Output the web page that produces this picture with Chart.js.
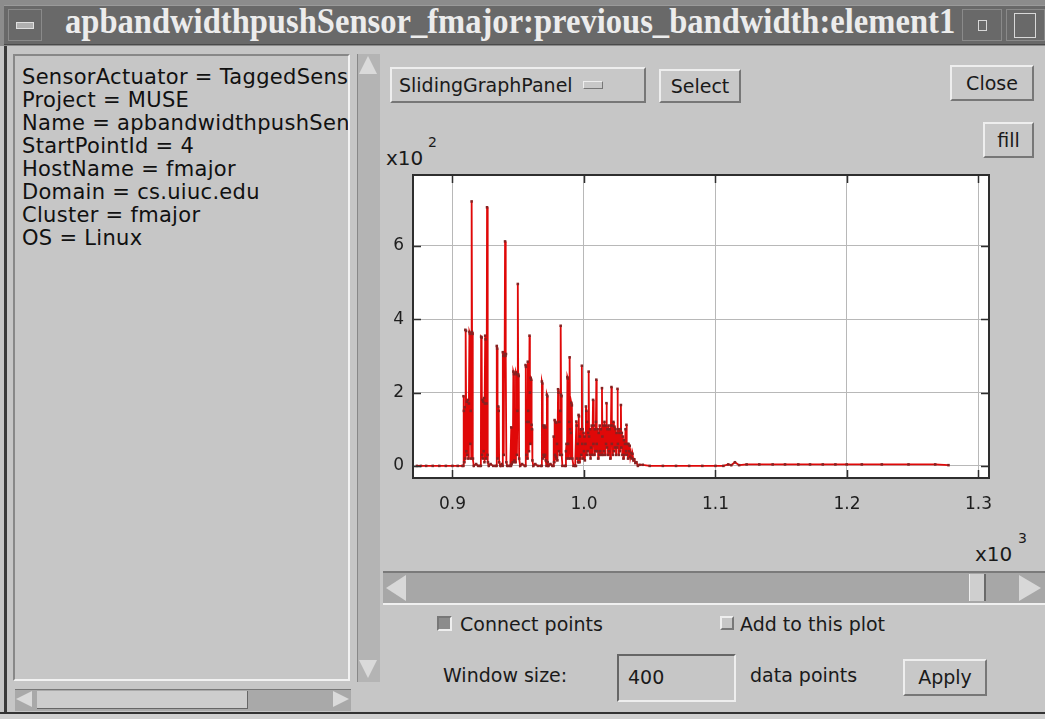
<!DOCTYPE html>
<html>
<head>
<meta charset="utf-8">
<script src="https://cdn.jsdelivr.net/npm/chart.js@4/dist/chart.umd.min.js"></script>
<style>
  body { margin: 0; width: 1045px; height: 719px; background: #c6c6c6; position: relative; overflow: hidden;
         font-family: 'DejaVu Sans', sans-serif; color: #1a1a1a; }
  .abs { position: absolute; }
  .btn { position: absolute; box-sizing: border-box; border: 2px solid; border-color: #eeeeee #777777 #777777 #eeeeee;
         background: #c8c8c8; font-size: 19px; line-height: 1; display: flex; align-items: center; justify-content: center; }
  .txt { position: absolute; font-size: 19px; white-space: nowrap; }
  .sunk { position: absolute; box-sizing: border-box; border: 2px solid; border-color: #777777 #eeeeee #eeeeee #777777; }
</style>
</head>
<body>
<!-- title bar -->
<div class="abs" style="left:0;top:0;width:1045px;height:46px;background:#8c8c8c;"></div>
<div class="abs" style="left:4px;top:5px;width:1041px;height:38px;background:#696969;border-top:1px solid #9a9a9a;border-bottom:1px solid #4a4a4a;"></div>
<div class="abs" style="left:8px;top:9px;width:34px;height:32px;border:1px solid #8a8a8a;box-sizing:border-box;"></div>
<div class="abs" style="left:16px;top:22px;width:16px;height:5px;background:#b0b0b0;border:1px solid #e0e0e0;"></div>
<div class="abs" style="left:962px;top:9px;width:40px;height:32px;border:1px solid #8a8a8a;box-sizing:border-box;"></div>
<div class="abs" style="left:978px;top:20px;width:7px;height:9px;border:1px solid #d8d8d8;"></div>
<div class="abs" style="left:1006px;top:9px;width:39px;height:32px;border:1px solid #8a8a8a;box-sizing:border-box;"></div>
<div class="abs" style="left:1014px;top:13px;width:20px;height:23px;border:1px solid #d8d8d8;"></div>
<div id="title" class="abs" style="left:65px;top:2px;font-family:'Liberation Serif',serif;font-weight:bold;font-size:35px;color:#ececec;white-space:nowrap;transform-origin:0 0;">apbandwidthpushSensor_fmajor:previous_bandwidth:element1</div>

<!-- left info panel -->
<div class="abs" style="left:4px;top:46px;width:3px;height:668px;background:#3a3a3a;"></div>
<div class="abs" style="left:13px;top:54px;width:337px;height:627px;box-sizing:border-box;border:2px solid;border-color:#888 #f2f2f2 #f2f2f2 #888;overflow:hidden;">
  <div style="position:absolute;left:7px;top:10px;font-size:21px;letter-spacing:0.3px;line-height:23px;white-space:pre;color:#111;">SensorActuator = TaggedSensor
Project = MUSE
Name = apbandwidthpushSensor
StartPointId = 4
HostName = fmajor
Domain = cs.uiuc.edu
Cluster = fmajor
OS = Linux</div>
</div>
<!-- left vertical scrollbar -->
<div class="abs" style="left:357px;top:54px;width:22px;height:628px;background:#b4b4b4;border-left:1px solid #888;"></div>
<div class="abs" style="left:359px;top:56px;width:0;height:0;border-left:9px solid transparent;border-right:9px solid transparent;border-bottom:18px solid #dadada;"></div>
<div class="abs" style="left:359px;top:660px;width:0;height:0;border-left:9px solid transparent;border-right:9px solid transparent;border-top:18px solid #dadada;"></div>
<!-- left horizontal scrollbar -->
<div class="abs" style="left:15px;top:689px;width:336px;height:21px;background:#a9a9a9;border-top:1px solid #777;"></div>
<div class="abs" style="left:37px;top:691px;width:210px;height:17px;background:#cdcdcd;border-right:1px solid #666;border-bottom:1px solid #666;"></div>
<div class="abs" style="left:16px;top:691px;width:0;height:0;border-top:8px solid transparent;border-bottom:8px solid transparent;border-right:16px solid #dadada;"></div>
<div class="abs" style="left:333px;top:691px;width:0;height:0;border-top:8px solid transparent;border-bottom:8px solid transparent;border-left:16px solid #dadada;"></div>
<div class="abs" style="left:0;top:712px;width:1045px;height:2px;background:#333;"></div>
<div class="abs" style="left:0;top:714px;width:1045px;height:5px;background:#d0d0d0;"></div>

<!-- right panel controls -->
<div class="btn" style="left:390px;top:67px;width:256px;height:36px;justify-content:flex-start;padding-left:7px;">SlidingGraphPanel
  <span style="display:inline-block;width:18px;height:6px;margin-left:10px;border:1px solid;border-color:#eee #777 #777 #eee;"></span></div>
<div class="btn" style="left:659px;top:69px;width:82px;height:34px;">Select</div>
<div class="btn" style="left:950px;top:65px;width:84px;height:36px;">Close</div>
<div class="btn" style="left:983px;top:122px;width:51px;height:36px;">fill</div>
<div class="txt" style="left:386px;top:146px;font-size:20px;">x10</div>
<div class="txt" style="left:428px;top:134px;font-size:14px;">2</div>

<canvas id="chart" class="abs" style="left:380px;top:170px;"></canvas>

<div class="txt" style="left:975px;top:542px;font-size:20px;">x10</div>
<div class="txt" style="left:1018px;top:530px;font-size:14px;">3</div>
<!-- plot scrollbar -->
<div class="abs" style="left:383px;top:571px;width:662px;height:34px;background:#a7a7a7;border-top:2px solid #7a7a7a;border-bottom:2px solid #f0f0f0;box-sizing:border-box;"></div>
<div class="abs" style="left:386px;top:575px;width:0;height:0;border-top:13px solid transparent;border-bottom:13px solid transparent;border-right:20px solid #d8d8d8;"></div>
<div class="abs" style="left:1019px;top:575px;width:0;height:0;border-top:13px solid transparent;border-bottom:13px solid transparent;border-left:22px solid #d8d8d8;"></div>
<div class="abs" style="left:969px;top:574px;width:14px;height:27px;background:#cfcfcf;border-left:1px solid #eee;border-right:2px solid #6a6a6a;"></div>

<div class="sunk" style="left:437px;top:616px;width:15px;height:15px;background:#8c8c8c;"></div>
<div class="txt" style="left:460px;top:613px;">Connect points</div>
<div class="sunk" style="left:720px;top:616px;width:14px;height:14px;border-color:#eee #777 #777 #eee;"></div>
<div class="txt" style="left:740px;top:613px;">Add to this plot</div>
<div class="txt" style="left:443px;top:664px;">Window size:</div>
<div class="sunk" style="left:617px;top:654px;width:119px;height:48px;border-color:#666 #eee #eee #666;"></div>
<div class="txt" style="left:628px;top:666px;">400</div>
<div class="txt" style="left:750px;top:664px;">data points</div>
<div class="btn" style="left:903px;top:659px;width:84px;height:37px;">Apply</div>

<script>
// x in data units (axis shows x10^3), y in data units (axis shows x10^2)
const xValues = [
  873, 876, 880, 885, 890, 895, 900, 904, 907.6,
  908.2, 908.4, 908.7, 908.9, 909.3, 909.6, 909.8, 910.3, 910.6, 910.9, 911.3, 911.7, 912.1, 912.5, 912.9,
  913.3, 913.6, 913.9, 914.3, 914.6, 914.9, 915.3, 915.6, 916.2, 918, 919.5,
  920.8, 921.6, 921.8, 922.2, 922.5, 922.8, 923.1, 923.4, 923.7, 924.0, 924.3, 924.6, 924.9, 925.2, 925.6,
  926.0, 926.3, 926.6, 927.0, 927.6, 929, 931,
  932.8, 933.5, 933.7, 934.0, 934.3, 934.8, 935.2, 935.5, 936.5, 937.6, 938.1, 938.3, 938.7, 939.0, 939.3,
  939.7, 940.0, 940.3, 940.7, 941.0, 941.6, 942.5,
  944, 944.5, 944.7, 945.0, 945.9, 946.3, 946.8, 947.1, 947.8, 948.3, 948.7, 949.0, 949.4, 949.7, 950.0,
  950.4, 950.7, 951.5, 953,
  955, 955.4, 955.6, 955.9, 956.2, 956.6, 957.0, 957.3, 957.6, 957.9, 958.2, 958.6, 958.9, 959.2, 959.5,
  959.9, 960.2, 960.5, 960.8, 961.5, 963, 965,
  967.2, 967.8, 968, 968.3, 968.6, 968.9, 969.2, 969.5, 969.8, 970.1, 970.4, 970.7, 971, 971.5, 971.8,
  972.1, 972.4, 973, 974.5,
  976, 976.8, 977, 977.3, 977.7, 978.0, 978.3, 978.6, 978.9, 979.2, 979.5, 979.8, 980.3, 980.6, 980.9,
  981.3, 981.6, 982, 982.3, 982.6, 982.9, 983.2, 983.6,
  985.5, 986.1, 986.3, 986.7, 987.1, 987.4, 987.7, 988, 988.4, 988.8, 989.1, 989.4, 989.7, 990.1, 990.4,
  990.8, 991.2, 992,
  993.3, 993.9, 994.2, 994.5, 994.8, 995.2, 995.5, 995.9, 996.2, 996.5, 996.9, 997.2, 997.6, 998.0, 998.4,
  998.7, 999.0, 999.3, 999.7, 1000.0, 1000.4, 1000.7, 1001.1, 1001.5, 1001.8, 1002.1, 1002.5, 1002.8,
  1003.2, 1003.6, 1003.9, 1004.3, 1004.7, 1005.0,
  1005.4, 1005.9, 1006.3, 1006.9, 1007.2, 1007.6, 1007.9, 1008.3, 1008.7, 1009.1, 1009.4, 1009.7, 1010.1,
  1010.4, 1010.8, 1011.2, 1011.6, 1012.0, 1012.4, 1012.8, 1013.2, 1013.7, 1014.0, 1014.4, 1014.8, 1015.2,
  1015.6, 1016.0, 1016.4, 1016.8, 1017.1, 1017.5,
  1017.9, 1018.3, 1018.7, 1019.1, 1019.5, 1020.0, 1020.5, 1020.9, 1021.2, 1021.6, 1022.0, 1022.4, 1022.8,
  1023.2, 1023.6, 1024.0, 1024.4, 1024.8, 1025.2, 1025.5, 1025.8, 1026.2, 1026.6, 1027.0, 1027.4, 1027.8,
  1028.1, 1028.4, 1028.8, 1029.2, 1029.6, 1030.0, 1030.4, 1030.8, 1031.2, 1031.6, 1032.0, 1032.3, 1032.7,
  1033.1, 1033.5, 1033.9, 1034.4, 1034.8, 1035.3, 1035.8, 1036.4, 1036.9, 1037.6, 1038.3, 1039.1, 1039.9,
  1041, 1042.3, 1044.7,
  1050, 1060, 1070, 1080, 1090, 1100, 1106, 1109.7, 1112, 1114.8, 1118, 1123.7, 1133.3, 1143.5, 1152.9,
  1163, 1171.9, 1181.6, 1191.2, 1199.8, 1211.3, 1226.5, 1246.8, 1267.1, 1277.2
];
const yValues = [
  0, 0, 0, 0, 0, 0, 0, 0, 0,
  0, 190, 150, 10, 160, 20, 371, 368, 40, 175, 30, 180, 20, 170, 365,
  360, 60, 150, 20, 721, 365, 360, 20, 0, 5, 0,
  0, 0, 352, 350, 30, 180, 20, 175, 40, 185, 10, 170, 355, 345, 20,
  170, 705, 30, 10, 0, 5, 0,
  0, 0, 327, 320, 20, 162, 150, 10, 0, 5, 0, 310, 300, 30, 300,
  305, 612, 300, 305, 10, 0, 0,
  0, 0, 105, 5, 10, 257, 250, 15, 10, 255, 250, 30, 150, 496, 250,
  245, 20, 0, 5,
  0, 0, 275, 270, 30, 120, 20, 284, 150, 120, 40, 355, 200, 60, 240,
  235, 112, 100, 15, 0, 5, 0,
  0, 0, 230, 225, 20, 110, 30, 105, 25, 110, 30, 105, 15, 0, 194,
  190, 10, 0, 5,
  0, 0, 80, 10, 125, 30, 120, 25, 118, 20, 60, 15, 209, 200, 40,
  120, 30, 150, 382, 194, 190, 30, 0,
  0, 0, 40, 60, 20, 242, 238, 60, 20, 120, 296, 100, 20, 90, 172,
  165, 20, 0,
  0, 0, 121, 110, 20, 60, 10, 139, 135, 10, 80, 20, 100, 30, 273,
  60, 100, 20, 90, 40, 80, 15, 60, 162, 150, 30, 120, 40,
  90, 257, 80, 30, 100, 20,
  50, 110, 30, 180, 60, 110, 30, 100, 40, 120, 235, 60, 40,
  100, 20, 90, 30, 110, 40, 100, 30, 212, 80, 30, 110, 40,
  120, 30, 110, 60, 171, 50,
  100, 30, 110, 40, 100, 20, 110, 215, 60, 110, 30, 120, 40,
  107, 50, 100, 30, 90, 50, 210, 60, 100, 30, 90, 40, 100,
  166, 50, 90, 30, 80, 20, 70, 30, 60, 100, 40, 112, 30,
  60, 20, 60, 40, 55, 25, 35, 20, 33, 15, 18, 8, 10,
  0, 3, 3,
  0, 0, 0, 0, 0, 0, 0, 4, 2, 10, 2, 4, 4, 4, 4,
  4, 4, 4, 4, 4, 4, 4, 4, 4, 2
];
const xTicks = [900, 1000, 1100, 1200, 1300];
const yTicks = [0, 200, 400, 600];

const points = xValues.map((x, i) => ({ x, y: yValues[i] }));

const frame = {
  id: 'frame',
  beforeDraw(chart) {
    const { ctx, chartArea: a } = chart;
    ctx.save();
    ctx.fillStyle = '#ffffff';
    ctx.fillRect(a.left, a.top, a.right - a.left, a.bottom - a.top);
    ctx.restore();
  },
  afterDraw(chart) {
    const { ctx, chartArea: a, scales } = chart;
    ctx.save();
    ctx.strokeStyle = '#2e2e2e';
    ctx.lineWidth = 2;
    ctx.strokeRect(a.left, a.top, a.right - a.left, a.bottom - a.top);
    ctx.lineWidth = 1.5;
    ctx.beginPath();
    xTicks.forEach(v => {
      const px = Math.round(scales.x.getPixelForValue(v)) + 0.5;
      ctx.moveTo(px, a.bottom); ctx.lineTo(px, a.bottom - 8);
      ctx.moveTo(px, a.top); ctx.lineTo(px, a.top + 8);
    });
    yTicks.forEach(v => {
      const py = Math.round(scales.y.getPixelForValue(v)) + 0.5;
      ctx.moveTo(a.left, py); ctx.lineTo(a.left + 8, py);
      ctx.moveTo(a.right, py); ctx.lineTo(a.right - 8, py);
    });
    ctx.stroke();
    ctx.restore();
  }
};

const canvas = document.getElementById('chart');
canvas.width = 620;
canvas.height = 350;

new Chart(canvas, {
  type: 'line',
  data: {
    datasets: [{
      data: points,
      borderColor: '#e00808',
      borderWidth: 1.8,
      pointStyle: 'rect',
      pointRadius: 1.8,
      pointBackgroundColor: '#862222',
      pointBorderWidth: 0,
      tension: 0,
      fill: false,
    }],
  },
  options: {
    responsive: false,
    animation: false,
    events: [],
    layout: { padding: { top: 5, right: 11, left: 0, bottom: 0 } },
    plugins: { legend: { display: false }, tooltip: { enabled: false } },
    scales: {
      x: {
        type: 'linear',
        min: 870,
        max: 1308,
        afterBuildTicks: s => { s.ticks = xTicks.map(v => ({ value: v })); },
        afterFit: s => { s.height = 42; s.paddingLeft = 0; s.paddingRight = 0; },
        grid: { color: '#b8b8b8', lineWidth: 1, drawTicks: false },
        border: { display: false },
        ticks: {
          autoSkip: false, maxRotation: 0, padding: 16, color: '#1e1e1e',
          font: { family: 'DejaVu Sans', size: 17 },
          callback: v => (v / 1000).toFixed(1),
        },
      },
      y: {
        min: -33,
        max: 793,
        afterBuildTicks: s => { s.ticks = yTicks.map(v => ({ value: v })); },
        afterFit: s => { s.width = 33; s.paddingTop = 0; s.paddingBottom = 0; },
        grid: { color: '#b8b8b8', lineWidth: 1, drawTicks: false },
        border: { display: false },
        ticks: {
          autoSkip: false, padding: 9, color: '#1e1e1e',
          font: { family: 'DejaVu Sans', size: 17 },
          callback: v => String(v / 100),
        },
      },
    },
  },
  plugins: [frame],
});

// fit the title to the bar width
const title = document.getElementById('title');
title.style.transform = 'scaleX(' + (890 / title.scrollWidth) + ')';
</script>
</body>
</html>
